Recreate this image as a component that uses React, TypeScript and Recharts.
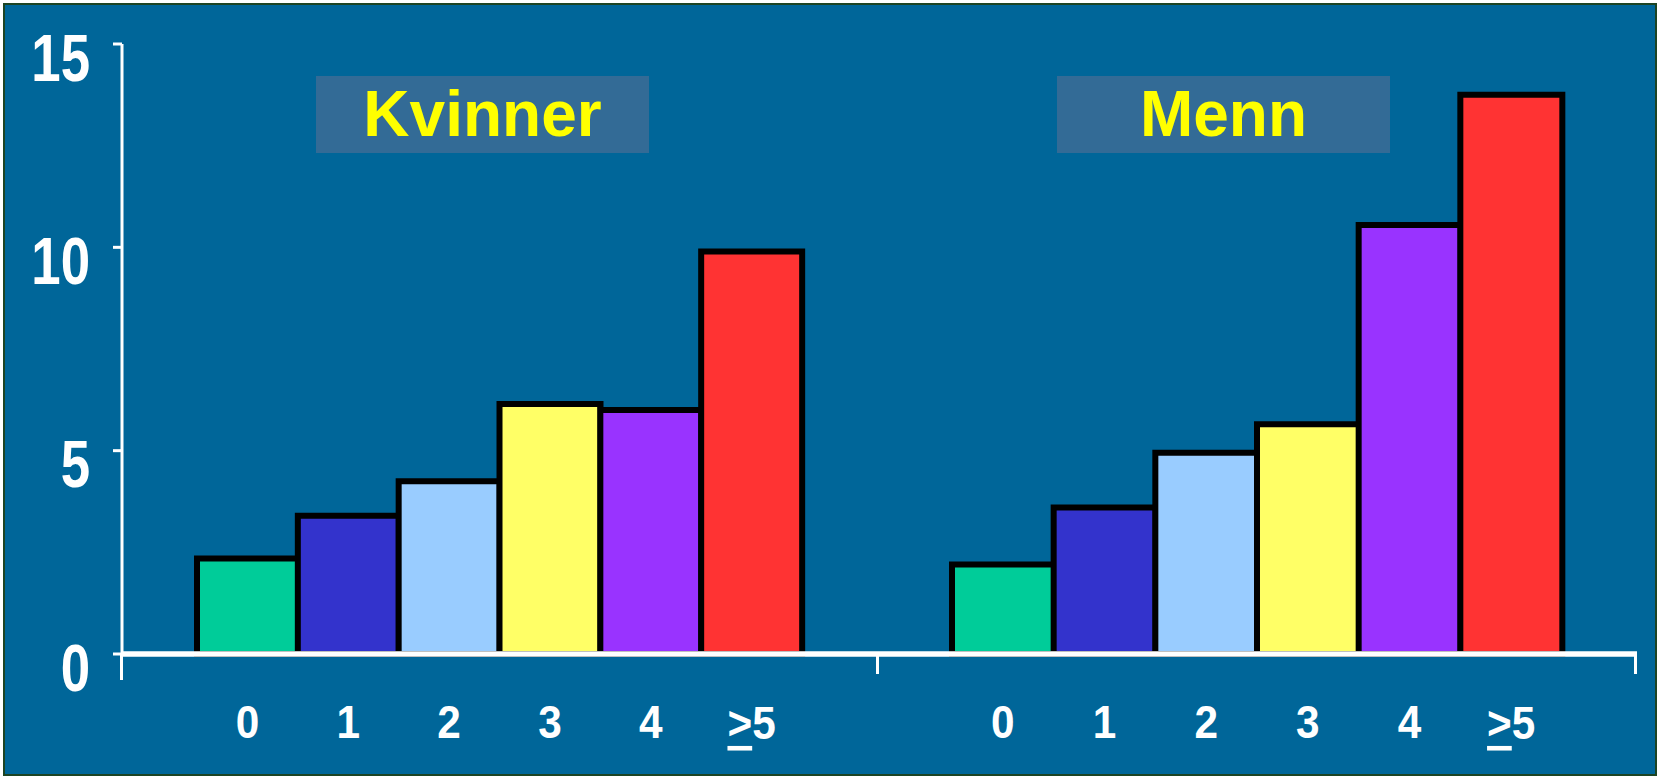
import React from 'react'
import { BarChart, Bar, Cell, XAxis, YAxis, ReferenceLine } from 'recharts'

// number of risk factors on the x axis
const groups = ['0', '1', '2', '3', '4', '≥5']
const kvinner = [2.35, 3.4, 4.25, 6.15, 6.0, 9.9]
const menn = [2.2, 3.6, 4.95, 5.65, 10.55, 13.75]
const yTicks = [0, 5, 10, 15]

const barColors = ['#00cc99', '#3333cc', '#99ccff', '#ffff66', '#9933ff', '#ff3333']
const BG = '#006699'
const FONT = '"Liberation Sans", Arial, sans-serif'

const toRows = (values: number[]) => groups.map((g, i) => ({ group: g, value: values[i] }))

const XTick = (props: any) => {
  const { x, y, payload } = props
  const label: string = payload.value
  const atLeast = label.startsWith('≥')
  return (
    <text
      transform={`translate(${x},${y}) scale(0.92,1)`}
      textAnchor="middle"
      dominantBaseline="central"
      fill="#fff"
      fontFamily={FONT}
      fontWeight="bold"
      fontSize={46}
    >
      {atLeast ? (
        <>
          <tspan textDecoration="underline">{'>'}</tspan>
          <tspan>{label.slice(1)}</tspan>
        </>
      ) : (
        label
      )}
    </text>
  )
}

// the y labels in the original are a condensed bold face
const YTick = (props: any) => {
  const { x, y, payload } = props
  return (
    <text
      transform={`translate(${x},${y + 14}) scale(0.8,1)`}
      textAnchor="end"
      dominantBaseline="central"
      fill="#fff"
      fontFamily={FONT}
      fontWeight="bold"
      fontSize={66}
    >
      {payload.value}
    </text>
  )
}

function Panel({ values, showY, width }: { values: number[]; showY: boolean; width: number }) {
  return (
    <BarChart
      width={width}
      height={779}
      data={toRows(values)}
      margin={{ top: 44, right: 0, bottom: 0, left: 0 }}
      barCategoryGap={0}
    >
      <XAxis
        dataKey="group"
        interval={0}
        padding={{ left: 75, right: 75 }}
        height={125}
        axisLine={{ stroke: '#fff', strokeWidth: 5 }}
        tickLine={false}
        tickSize={0}
        tickMargin={68}
        tick={<XTick />}
      />
      {showY ? (
        <YAxis
          domain={[0, 15]}
          ticks={yTicks}
          width={122}
          axisLine={{ stroke: '#fff', strokeWidth: 3 }}
          tickLine={{ stroke: '#fff', strokeWidth: 3 }}
          tickSize={9}
          tickMargin={23}
          tick={<YTick />}
        />
      ) : (
        <YAxis hide domain={[0, 15]} ticks={yTicks} />
      )}
      <Bar dataKey="value" stroke="#000" strokeWidth={6} isAnimationActive={false}>
        {values.map((_, i) => (
          <Cell key={`cell-${i}`} fill={barColors[i]} />
        ))}
      </Bar>
      <ReferenceLine y={0} stroke="#fff" strokeWidth={5} />
    </BarChart>
  )
}

const titleBox = (left: number): React.CSSProperties => ({
  position: 'absolute',
  left,
  top: 76,
  width: 333,
  height: 77,
  background: '#336b96',
  color: '#ffff00',
  fontFamily: FONT,
  fontWeight: 'bold',
  fontSize: 64,
  lineHeight: '77px',
  textAlign: 'center'
})

const edgeTick = (left: number, height: number): React.CSSProperties => ({
  position: 'absolute',
  left,
  top: 654,
  width: 3,
  height,
  background: '#fff'
})

export default function App() {
  return (
    <div style={{ position: 'absolute', left: 0, top: 0, width: 1662, height: 779, background: '#fff' }}>
      <div
        style={{
          position: 'absolute',
          left: 3,
          top: 3,
          width: 1650,
          height: 769,
          background: BG,
          border: '2px solid #1c4424'
        }}
      />
      <div style={{ position: 'absolute', left: 0, top: 0 }}>
        <Panel values={kvinner} showY width={877} />
      </div>
      <div style={{ position: 'absolute', left: 877, top: 0 }}>
        <Panel values={menn} showY={false} width={760} />
      </div>
      <div style={edgeTick(120, 26)} />
      <div style={edgeTick(876, 20)} />
      <div style={edgeTick(1634, 20)} />
      <div style={titleBox(316)}>Kvinner</div>
      <div style={titleBox(1057)}>Menn</div>
    </div>
  )
}
